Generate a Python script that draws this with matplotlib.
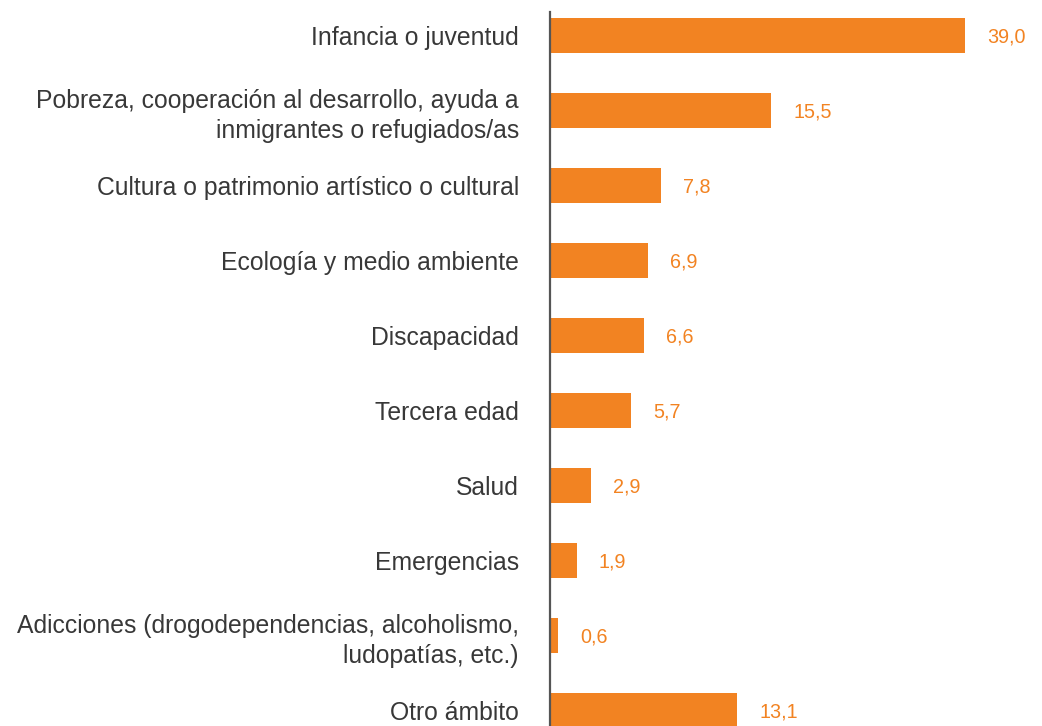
import numpy as np
import matplotlib
matplotlib.use("Agg")
import matplotlib.pyplot as plt

categories = [
    "Infancia o juventud",
    "Pobreza, cooperación al desarrollo, ayuda a\ninmigrantes o refugiados/as",
    "Cultura o patrimonio artístico o cultural",
    "Ecología y medio ambiente",
    "Discapacidad",
    "Tercera edad",
    "Salud",
    "Emergencias",
    "Adicciones (drogodependencias, alcoholismo,\nludopatías, etc.)",
    "Otro ámbito",
]
values = [39.0, 15.5, 7.8, 6.9, 6.6, 5.7, 2.9, 1.9, 0.6, 13.1]
value_labels = ["39,0", "15,5", "7,8", "6,9", "6,6", "5,7", "2,9", "1,9", "0,6", "13,1"]

ORANGE = "#F28322"
TEXT = "#383838"
SPINE = "#555555"

# broken (compressed) scale beyond a threshold, as in the original chart
T, K = 20.0, 0.478


def fwd(x):
    x = np.asarray(x, dtype=float)
    return np.where(x <= T, x, T + (x - T) * K)


def inv(y):
    y = np.asarray(y, dtype=float)
    return np.where(y <= T, y, T + (y - T) / K)


plt.rcParams["font.family"] = ["Liberation Sans", "DejaVu Sans"]

W, H = 1042, 726
fig = plt.figure(figsize=(W / 100, H / 100), dpi=100)
left = 549.5 / W
top_px = 12
ax = fig.add_axes([left, 0, 1 - left, (H - top_px) / H])

ypos = np.arange(len(categories))
ax.barh(ypos, values, height=0.467, color=ORANGE, left=0)

ax.set_xscale("function", functions=(fwd, inv))
units_visible = (W - 549.5) / 14.3
ax.set_xlim(0, float(inv(units_visible)))
ax.set_ylim(9.207, -0.313)

for y, v, lab in zip(ypos, values, value_labels):
    ax.annotate(lab, xy=(v, y), xytext=(16, 0), textcoords="offset points",
                ha="left", va="center_baseline", fontsize=14.2, color=ORANGE)

ax.set_yticks(ypos)
ax.set_yticklabels(categories, fontsize=17.8, color=TEXT, linespacing=1.3)
ax.tick_params(axis="y", length=0, pad=22)
ax.set_xticks([])

for s in ["top", "right", "bottom"]:
    ax.spines[s].set_visible(False)
ax.spines["left"].set_color(SPINE)
ax.spines["left"].set_linewidth(1.6)

fig.savefig("out.png", dpi=100)
